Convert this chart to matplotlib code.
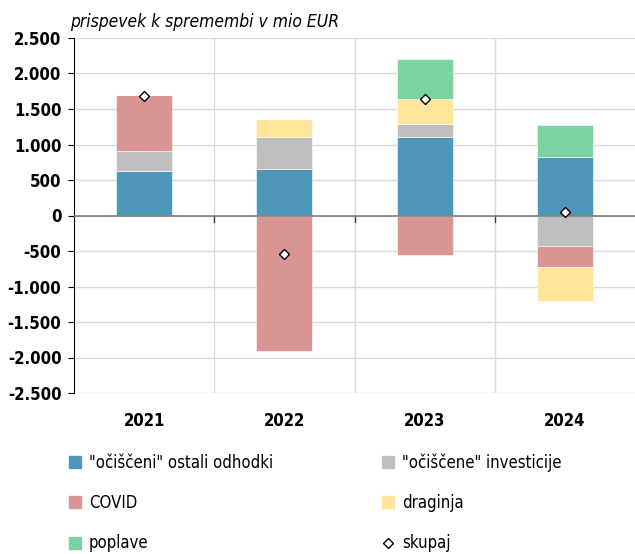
import numpy as np
import matplotlib
matplotlib.use('Agg')
import matplotlib.pyplot as plt
from matplotlib.patches import Patch
from matplotlib.lines import Line2D
from matplotlib.ticker import FuncFormatter

plt.rcParams['font.family'] = ['DejaVu Sans']
plt.rcParams['font.stretch'] = 'condensed'

years = ['2021', '2022', '2023', '2024']
ostali = [620, 660, 1110, 830]
investicije = [290, 440, 185, -430]
covid = [785, -1910, -560, -290]
draginja = [0, 260, 345, -480]
poplave = [0, 0, 570, 440]
skupaj = [1690, -545, 1645, 55]

series = [
    ('"očiščeni" ostali odhodki', ostali, '#4E97B9'),
    ('"očiščene" investicije', investicije, '#BFBFBF'),
    ('COVID', covid, '#D99594'),
    ('draginja', draginja, '#FFE499'),
    ('poplave', poplave, '#7AD3A0'),
]

fig = plt.figure(figsize=(6.35, 5.54), dpi=100)
ax = fig.add_axes([74/635, 1-393/554, 1-74/635, (393-38)/554])

x = np.arange(len(years))
pos_base = np.zeros(len(years))
neg_base = np.zeros(len(years))
for name, vals, col in series:
    v = np.array(vals, dtype=float)
    base = np.where(v >= 0, pos_base, neg_base)
    ax.bar(x, v, 0.4, bottom=base, color=col, edgecolor='white', linewidth=0.4, zorder=3)
    pos_base += np.where(v >= 0, v, 0)
    neg_base += np.where(v < 0, v, 0)

ax.plot(x, skupaj, 'D', markersize=5, markerfacecolor='white', markeredgecolor='black',
        markeredgewidth=1, zorder=5)

ax.set_xlim(-0.5, 3.5)
ax.set_ylim(-2500, 2500)
ax.set_yticks(np.arange(-2500, 2501, 500))
ax.yaxis.set_major_formatter(FuncFormatter(lambda v, p: f'{int(v):,}'.replace(',', '.')))
ax.grid(axis='y', color='#d9d9d9', linewidth=1, zorder=0)
for b in [0.5, 1.5, 2.5]:
    ax.axvline(b, color='#d9d9d9', linewidth=1, zorder=0)
    ax.plot([b, b], [0, -90], color='#404040', linewidth=1, zorder=4)
ax.axhline(0, color='#7f7f7f', linewidth=1.2, zorder=4)

ax.set_xticks(x)
ax.set_xticklabels(years, fontsize=12, fontweight='bold')
ax.tick_params(axis='x', length=0, pad=14)
ax.tick_params(axis='y', length=4, direction='out', labelsize=12, pad=5)
for lab in ax.get_yticklabels():
    lab.set_fontweight('bold')
for s in ['top', 'right', 'bottom']:
    ax.spines[s].set_visible(False)
ax.spines['left'].set_color('black')

fig.text(70/635, 1-22/554, 'prispevek k spremembi v mio EUR', fontsize=12.5, style='italic',
         va='center', ha='left')

h = {name: Patch(color=col) for name, vals, col in series}
skup = Line2D([], [], marker='D', linestyle='none', markersize=5, markerfacecolor='white',
              markeredgecolor='black')
handles = [h['"očiščeni" ostali odhodki'], h['COVID'], h['poplave'],
           h['"očiščene" investicije'], h['draginja'], skup]
labels = ['"očiščeni" ostali odhodki', 'COVID', 'poplave',
          '"očiščene" investicije', 'draginja', 'skupaj']
fig.legend(handles, labels, loc='upper left', bbox_to_anchor=(54/635, 1-438/554), ncol=2,
           frameon=False, fontsize=12, handlelength=0.7, handleheight=0.7, handletextpad=0.5,
           labelspacing=1.35, columnspacing=6.55)

plt.savefig('out.png', dpi=100)
